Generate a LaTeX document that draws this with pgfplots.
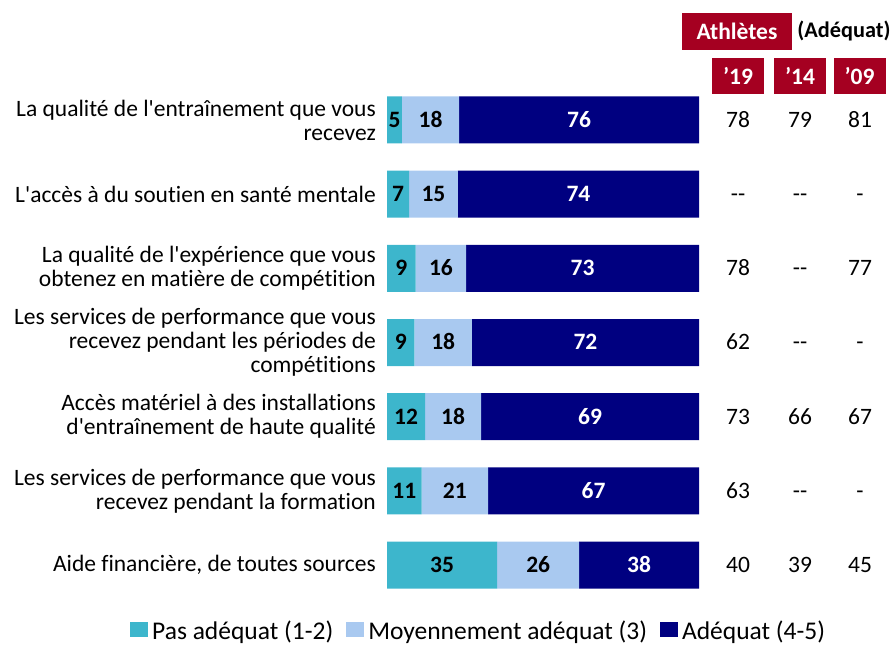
\documentclass[border=0pt]{standalone}
\usepackage{fontspec}
\setmainfont{Carlito}[Ligatures={TeXOff,NoCommon}]
\usepackage{pgfplots}
\pgfplotsset{compat=1.18}
\definecolor{pasadq}{RGB}{61,182,204}
\definecolor{moyadq}{RGB}{169,201,240}
\definecolor{adq}{RGB}{0,0,128}
\definecolor{athred}{RGB}{165,0,33}

\begin{document}
\fontsize{23.5}{24}\selectfont
\begin{tikzpicture}
\path[use as bounding box] (0pt,0pt) rectangle (891pt,646pt);
\pgfplotsset{
  base/.style={
    at={(387pt,43.9pt)}, anchor=south west,
    scale only axis, width=312pt, height=519.2pt,
    xmin=0, xmax=100, ymin=-0.5, ymax=6.5, y dir=reverse,
    axis line style={draw=none}, tick style={draw=none},
    xtick=\empty, clip=false,
  },
  lbl/.style={draw=none, mark=none, nodes near coords,
    point meta=explicit symbolic,
    every node near coord/.append style={anchor=base, inner sep=0pt, yshift=-7.4pt}},
}
% barres empilees
\begin{axis}[base,
  xbar stacked, bar width=47pt,
  ytick={0,...,6},
  yticklabels={
    {La qualité de l'entraînement que vous\\recevez},
    {L'accès à du soutien en santé mentale},
    {La qualité de l'expérience que vous\\obtenez en matière de compétition},
    {Les services de performance que vous\\recevez pendant les périodes de\\compétitions},
    {Accès matériel à des installations\\d'entraînement de haute qualité},
    {Les services de performance que vous\\recevez pendant la formation},
    {Aide financière, de toutes sources}},
  yticklabel style={align=right, inner sep=0pt, xshift=-11pt},
  legend style={at={(-0.8237,-0.0785)}, anchor=south west, draw=none, fill=none,
    legend columns=3, inner sep=0pt,
    font=\fontsize{25.5}{26}\selectfont,
    /tikz/every odd column/.append style={column sep=4pt},
    /tikz/every even column/.append style={column sep=13pt},
    nodes={inner sep=0pt}},
  legend cell align=left,
  legend image code/.code={\fill[#1] (0pt,-5pt) rectangle (18pt,10pt);},
]
\addplot[fill=pasadq, draw=none] coordinates
  {(4.8,0) (7.1,1) (9.2,2) (8.8,3) (12.2,4) (11.1,5) (35.3,6)};
\addplot[fill=moyadq, draw=none] coordinates
  {(18.3,0) (15.6,1) (16.2,2) (18.4,3) (18.0,4) (21.3,5) (26.3,6)};
\addplot[fill=adq, draw=none] coordinates
  {(76.9,0) (77.3,1) (74.6,2) (72.8,3) (69.8,4) (67.6,5) (38.4,6)};
\legend{Pas adéquat (1-2), Moyennement adéquat (3), Adéquat (4-5)}
\end{axis}

% etiquettes des valeurs et colonnes des annees precedentes
\begin{axis}[base, ytick=\empty]
\addplot[lbl, every node near coord/.append style={font=\bfseries, text=black}] coordinates {
  (2.4,0)[5] (13.95,0)[18] (3.55,1)[7] (14.9,1)[15]
  (4.6,2)[9] (17.3,2)[16] (4.4,3)[9] (18.0,3)[18]
  (6.1,4)[12] (21.2,4)[18] (5.55,5)[11] (21.75,5)[21]
  (17.65,6)[35] (48.45,6)[26]};
\addplot[lbl, every node near coord/.append style={font=\bfseries, text=white}] coordinates {
  (61.55,0)[76] (61.35,1)[74] (62.7,2)[73] (63.6,3)[72]
  (65.1,4)[69] (66.2,5)[67] (80.8,6)[38]};
\addplot[lbl, every node near coord/.append style={text=black}] coordinates {
  (112.5,0)[78] (132.4,0)[79] (151.6,0)[81]
  (112.5,1)[--] (132.4,1)[--] (151.6,1)[-]
  (112.5,2)[78] (132.4,2)[--] (151.6,2)[77]
  (112.5,3)[62] (132.4,3)[--] (151.6,3)[-]
  (112.5,4)[73] (132.4,4)[66] (151.6,4)[67]
  (112.5,5)[63] (132.4,5)[--] (151.6,5)[-]
  (112.5,6)[40] (132.4,6)[39] (151.6,6)[45]};
\end{axis}

% en-tetes
\node[fill=athred, text=white, font=\bfseries, minimum width=110pt,
  minimum height=37pt, inner sep=0pt] at (737pt,614.5pt) {Athlètes};
\node[font=\fontsize{22.3}{24}\selectfont\bfseries, inner sep=0pt] at (844pt,615pt) {(Adéquat)};
\foreach \xx/\yr in {738/19, 800/14, 859.5/09}
  \node[fill=athred, text=white, font=\bfseries, minimum width=52pt,
    minimum height=36pt, inner sep=0pt] at (\xx pt,570pt) {’\yr};
\end{tikzpicture}
\end{document}
